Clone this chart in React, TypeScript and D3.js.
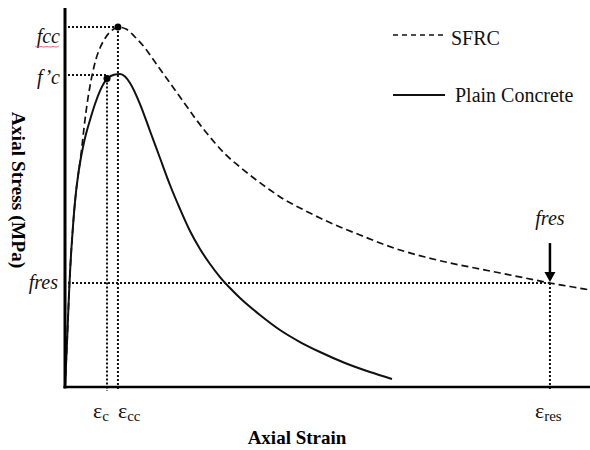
import React from 'react';
import * as d3 from 'd3';

const W = 590;
const H = 450;

// Strain in units of 10^-3, stress in MPa
const sfrcStrain = [0, 0.067, 0.133, 0.2, 0.267, 0.333, 0.4, 0.467, 0.533, 0.6, 0.667, 0.733, 0.867, 1.0, 1.133, 1.267, 1.4, 1.533, 1.667, 1.867, 2.067, 2.333, 2.6, 2.933, 3.2, 3.533, 4.067, 4.667, 5.333, 6.0, 6.667, 7.333, 8.0, 8.667, 9.333, 10.0, 10.667, 11.667, 12.667, 13.667, 14.667, 15.667, 17.0, 18.333, 19.667, 21.0, 22.333, 24.0, 25.667, 27.333, 29.0, 30.667, 32.333, 33.667, 35.0];
const sfrcStress = [0, 3.48, 6.97, 10.92, 14.72, 18.05, 20.9, 23.27, 25.49, 27.55, 29.29, 30.87, 33.4, 35.62, 38.15, 41.0, 43.54, 45.76, 47.65, 50.03, 51.93, 53.67, 54.93, 56.04, 56.6, 56.99, 56.68, 55.41, 53.67, 51.45, 49.23, 47.02, 44.8, 42.59, 40.53, 38.63, 36.89, 34.83, 32.93, 31.19, 29.6, 28.34, 26.75, 25.33, 24.07, 22.8, 21.69, 20.58, 19.63, 18.84, 18.05, 17.26, 16.46, 15.91, 15.36];

const plainStrain = [0, 0.067, 0.133, 0.2, 0.267, 0.333, 0.4, 0.467, 0.533, 0.6, 0.667, 0.733, 0.867, 1.0, 1.2, 1.4, 1.667, 2.0, 2.333, 2.6, 2.867, 3.267, 3.667, 4.0, 4.333, 5.0, 5.667, 6.333, 7.0, 7.667, 8.333, 9.0, 9.667, 10.333, 11.0, 11.667, 13.0, 14.333, 15.667, 17.0, 18.667, 20.333, 21.8];
const plainStress = [0, 3.48, 6.97, 10.92, 14.72, 18.05, 20.9, 23.27, 25.49, 27.55, 29.29, 30.87, 33.4, 35.46, 37.99, 40.05, 42.27, 44.8, 46.88, 48.13, 48.92, 49.43, 49.55, 49.16, 48.13, 44.8, 40.53, 36.25, 31.98, 28.18, 24.7, 21.85, 19.47, 17.41, 15.67, 14.09, 11.4, 9.02, 7.12, 5.54, 3.8, 2.37, 1.27];

// Characteristic points
const epsC = 2.8;
const epsCC = 3.53;
const epsRes = 32.33;
const fPrimeC = 49.4;
const fCC = 57.0;
const fRes = 16.45;
const plainAtEpsC = 48.85;

const strainDomain = [0, 35];
const stressDomain = [0, 60];

const serif = '"Liberation Serif", "Times New Roman", serif';

export default function App() {
  const x = d3.scaleLinear().domain(strainDomain).range([65, 590]);
  const y = d3.scaleLinear().domain(stressDomain).range([387, 8]);

  const line = d3
    .line<[number, number]>()
    .x((d) => x(d[0]))
    .y((d) => y(d[1]))
    .curve(d3.curveMonotoneX);

  const sfrc = sfrcStrain.map((s, i) => [s, sfrcStress[i]] as [number, number]);
  const plain = plainStrain.map((s, i) => [s, plainStress[i]] as [number, number]);

  const x0 = x(0);
  const yBase = y(0);
  const dotted = { stroke: '#111', strokeWidth: 2, strokeDasharray: '2 2', fill: 'none' };
  const guideStart = x0 + 3;
  const guideEnd = yBase + 4;

  // small wavy underline below the fcc label
  const wave = d3.range(0, 9).map((i) => [35 + i * 3, 46 + (i % 2 === 0 ? 0 : 1.6)] as [number, number]);

  return (
    <svg
      width={W}
      height={H}
      viewBox={`0 0 ${W} ${H}`}
      style={{ position: 'absolute', left: 0, top: 0, background: '#fff' }}
      fontFamily={serif}
    >
      <rect x={0} y={0} width={W} height={H} fill="#fff" />

      {/* guide lines */}
      <line x1={guideStart} x2={x(epsCC)} y1={y(fCC)} y2={y(fCC)} {...dotted} />
      <line x1={guideStart} x2={x(epsC)} y1={y(fPrimeC)} y2={y(fPrimeC)} {...dotted} />
      <line x1={guideStart} x2={x(epsRes)} y1={y(fRes)} y2={y(fRes)} {...dotted} />
      <line x1={x(epsC)} x2={x(epsC)} y1={y(plainAtEpsC)} y2={guideEnd} {...dotted} />
      <line x1={x(epsCC)} x2={x(epsCC)} y1={y(fCC)} y2={guideEnd} {...dotted} />
      <line x1={x(epsRes)} x2={x(epsRes)} y1={y(fRes)} y2={guideEnd} {...dotted} />

      {/* stress-strain curves */}
      <path d={line(sfrc) || ''} fill="none" stroke="#111" strokeWidth={1.7} strokeDasharray="7 4" />
      <path d={line(plain) || ''} fill="none" stroke="#111" strokeWidth={2} />

      {/* peak markers */}
      <circle cx={x(epsCC)} cy={y(fCC)} r={3.5} fill="#000" />
      <circle cx={x(epsC)} cy={y(plainAtEpsC)} r={3.5} fill="#000" />

      {/* axes */}
      <line x1={x0} x2={x0} y1={y(stressDomain[1])} y2={yBase + 1.5} stroke="#000" strokeWidth={3} />
      <line x1={x0 - 1.5} x2={x(strainDomain[1])} y1={yBase} y2={yBase} stroke="#000" strokeWidth={2.5} />

      {/* residual stress arrow */}
      <line x1={x(epsRes)} x2={x(epsRes)} y1={y(fRes) - 40} y2={y(fRes) - 10} stroke="#000" strokeWidth={2.5} />
      <path
        d={`M${x(epsRes) - 5.5},${y(fRes) - 11} L${x(epsRes) + 5.5},${y(fRes) - 11} L${x(epsRes)},${y(fRes) - 1} Z`}
        fill="#000"
      />
      <text x={x(epsRes)} y={y(fRes) - 58} textAnchor="middle" fontSize={20} fontStyle="italic" fill="#111">
        fres
      </text>

      {/* stress labels */}
      <text x={60} y={y(fCC) + 16} textAnchor="end" fontSize={20} fontStyle="italic" fill="#111">
        fcc
      </text>
      <path d={d3.line().curve(d3.curveBasis)(wave) || ''} fill="none" stroke="#e05050" strokeWidth={0.9} />
      <text x={60} y={y(fPrimeC) + 9} textAnchor="end" fontSize={20} fontStyle="italic" fill="#111">
        f’c
      </text>
      <text x={58} y={y(fRes) + 6} textAnchor="end" fontSize={20} fontStyle="italic" fill="#111">
        fres
      </text>

      {/* strain labels */}
      <text x={x(epsC) - 14} y={418} fontSize={22} fill="#111">
        ε<tspan fontSize={15} dy={3}>c</tspan>
      </text>
      <text x={x(epsCC)} y={418} fontSize={22} fill="#111">
        ε<tspan fontSize={15} dy={3}>cc</tspan>
      </text>
      <text x={x(epsRes) - 15} y={418} fontSize={22} fill="#111">
        ε<tspan fontSize={15} dy={3}>res</tspan>
      </text>

      {/* axis titles */}
      <text x={297} y={444} textAnchor="middle" fontSize={19} fontWeight="bold" fill="#000">
        Axial Strain
      </text>
      <text
        transform={`translate(12, 190) rotate(90)`}
        textAnchor="middle"
        fontSize={19.5}
        fontWeight="bold"
        fill="#000"
      >
        Axial Stress (MPa)
      </text>

      {/* legend */}
      <line x1={393} x2={445} y1={35} y2={35} stroke="#111" strokeWidth={1.5} strokeDasharray="5 4" />
      <text x={451} y={45} fontSize={20} fill="#111">
        SFRC
      </text>
      <line x1={393} x2={445} y1={95} y2={95} stroke="#111" strokeWidth={2.2} />
      <text x={455} y={102} fontSize={20} fill="#111">
        Plain Concrete
      </text>
    </svg>
  );
}
